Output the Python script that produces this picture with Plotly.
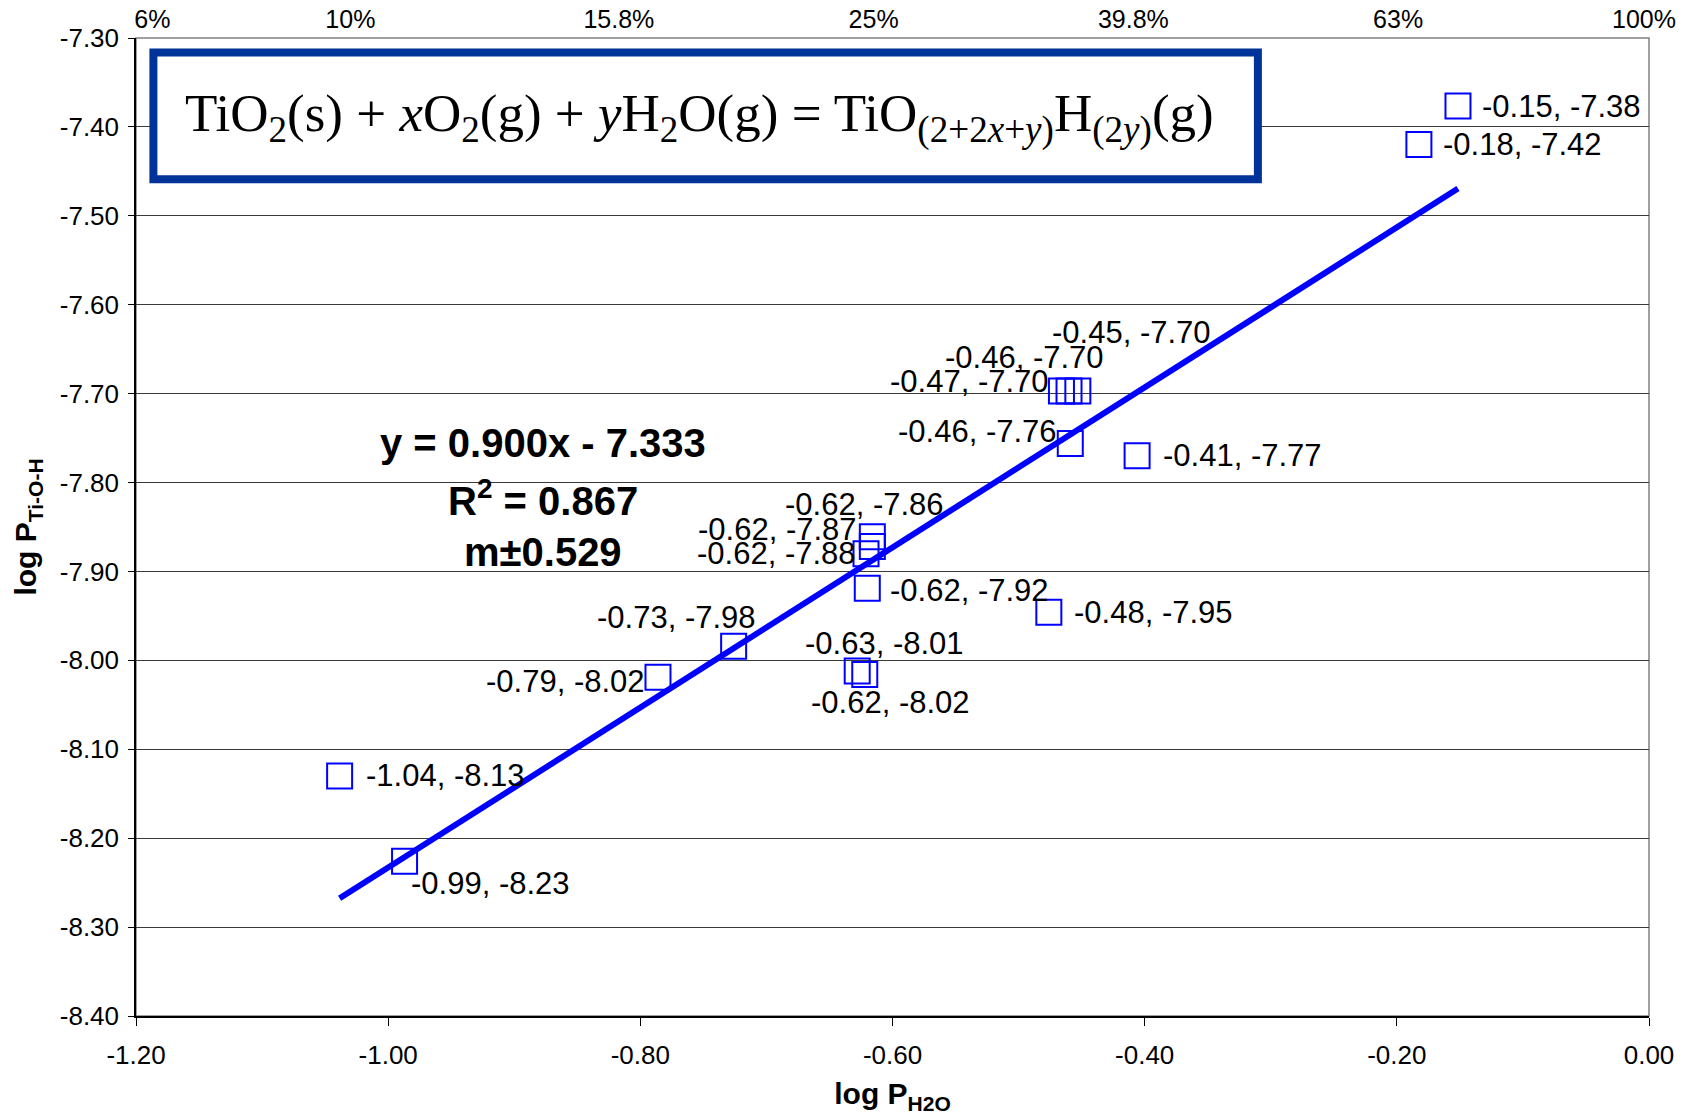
import plotly.graph_objects as go

# ---------------- data ----------------
log_p_h2o = [-0.1515, -0.1825, -0.453, -0.460, -0.466, -0.459, -0.406, -0.616, -0.616,
             -0.621, -0.620, -0.476, -0.726, -0.786, -0.628, -0.622, -1.0385, -0.987]
log_p_tioh = [-7.3765, -7.4197, -7.697, -7.697, -7.697, -7.756, -7.770, -7.861, -7.872,
              -7.880, -7.919, -7.946, -7.984, -8.019, -8.012, -8.016, -8.130, -8.226]

fit_slope = 0.900
fit_intercept = -7.333
fit_r2 = 0.867
fit_m_err = 0.529

x_tick_vals = [-1.2, -1.0, -0.8, -0.6, -0.4, -0.2, 0.0]
y_tick_vals = [-7.3, -7.4, -7.5, -7.6, -7.7, -7.8, -7.9, -8.0, -8.1, -8.2, -8.3, -8.4]
top_tick_text = ["6%", "10%", "15.8%", "25%", "39.8%", "63%", "100%"]
top_tick_pos = [-1.187, -1.030, -0.817, -0.615, -0.409, -0.199, -0.004]

# label placement style (anchor, dx px, dy px downward)
label_style = [("left", 22, 0), ("left", 22, 0), ("center", 54, -58), ("center", -45, -33),
               ("right", -10, -9), ("right", -11, -12), ("left", 24, 0), ("center", -8, -32),
               ("right", -13, -17), ("right", -8, 0), ("left", 21, 2), ("left", 23, 0),
               ("center", -57, -29), ("right", -11, 4), ("center", 27, -28), ("center", 26, 28),
               ("left", 24, 0), ("left", 4, 22)]

SANS = "Liberation Sans, Arial, sans-serif"
SERIF = "Liberation Serif, Times New Roman, serif"
BLUE = "#0000FF"

fig = go.Figure()

fig.add_trace(go.Scatter(
    x=log_p_h2o, y=log_p_tioh, mode="markers",
    marker=dict(symbol="square-open", size=25, color=BLUE, line=dict(width=2, color=BLUE)),
    showlegend=False, hoverinfo="x+y"))

x_lo, x_hi = min(log_p_h2o), max(log_p_h2o)
fig.add_trace(go.Scatter(
    x=[x_lo, x_hi], y=[fit_slope * x_lo + fit_intercept, fit_slope * x_hi + fit_intercept],
    mode="lines", line=dict(color=BLUE, width=6), showlegend=False, hoverinfo="skip"))

# invisible trace to anchor the top percentage axis
fig.add_trace(go.Scatter(x=[x_lo, x_hi], y=[None, None], xaxis="x2", mode="markers",
                         showlegend=False, hoverinfo="skip"))

annotations = []
for xv, yv, (anc, dx, dy) in zip(log_p_h2o, log_p_tioh, label_style):
    annotations.append(dict(
        x=xv, y=yv, xref="x", yref="y", text=f"{xv:.2f}, {yv:.2f}", showarrow=False,
        xanchor=anc, yanchor="middle", xshift=dx, yshift=-dy,
        font=dict(family=SANS, size=31, color="black")))

# regression text
reg_lines = [f"y = {fit_slope:.3f}x - {abs(fit_intercept):.3f}",
             f"R<sup>2</sup> = {fit_r2:.3f}",
             f"m±{fit_m_err:.3f}"]
reg_y = [0.5862, 0.5296, 0.4746]
for t, yy in zip(reg_lines, reg_y):
    annotations.append(dict(x=0.269, y=yy, xref="paper", yref="paper", text=f"<b>{t}</b>",
                            showarrow=False, xanchor="center", yanchor="middle",
                            font=dict(family=SANS, size=40, color="black")))

# reaction equation
annotations.append(dict(
    x=0.3722, y=0.919, xref="paper", yref="paper", showarrow=False,
    xanchor="center", yanchor="middle",
    text="TiO<sub>2</sub>(s) + <i>x</i>O<sub>2</sub>(g) + <i>y</i>H<sub>2</sub>O(g) = "
         "TiO<sub>(2+2<i>x</i>+<i>y</i>)</sub>H<sub>(2<i>y</i>)</sub>(g)",
    font=dict(family=SERIF, size=53, color="black")))

shapes = [
    dict(type="rect", xref="paper", yref="paper", x0=0, x1=1, y0=0, y1=1,
         line=dict(color="#808080", width=1.5), layer="below"),
    dict(type="rect", xref="paper", yref="paper", x0=0.0115, x1=0.7415, y0=0.8556, y1=0.9851,
         line=dict(color="#003399", width=8), fillcolor="white", layer="above"),
]

fig.update_layout(
    width=1688, height=1115,
    margin=dict(l=136, r=39, t=38, b=99, autoexpand=False),
    paper_bgcolor="white", plot_bgcolor="white",
    showlegend=False,
    annotations=annotations,
    shapes=shapes,
    xaxis=dict(
        range=[-1.2, 0.0], tickvals=x_tick_vals, ticktext=[f"{v:.2f}" for v in x_tick_vals],
        ticks="outside", ticklen=8, tickcolor="black", tickwidth=1, ticklabelstandoff=7,
        showline=True, linecolor="black", linewidth=2, showgrid=False, zeroline=False,
        tickfont=dict(family=SANS, size=26, color="black"),
        title=dict(text="<b>log P<sub>H2O</sub></b>", standoff=14,
                   font=dict(family=SANS, size=30, color="black")),
    ),
    xaxis2=dict(
        range=[-1.2, 0.0], overlaying="x", side="top", tickvals=top_tick_pos,
        ticktext=top_tick_text, ticks="", showline=False, showgrid=False, zeroline=False,
        ticklabelstandoff=4,
        tickfont=dict(family=SANS, size=25, color="black"),
    ),
    yaxis=dict(
        range=[-8.4, -7.3], tickvals=y_tick_vals, ticktext=[f"{v:.2f}" for v in y_tick_vals],
        ticks="outside", ticklen=6, tickcolor="black", tickwidth=1, ticklabelstandoff=4,
        showline=True, linecolor="black", linewidth=1.5,
        showgrid=True, gridcolor="#3a3a3a", gridwidth=1, zeroline=False,
        tickfont=dict(family=SANS, size=26, color="black"),
        title=dict(text="<b>log P<sub>Ti-O-H</sub></b>", standoff=14,
                   font=dict(family=SANS, size=30, color="black")),
    ),
)

fig.write_html("out.html")
